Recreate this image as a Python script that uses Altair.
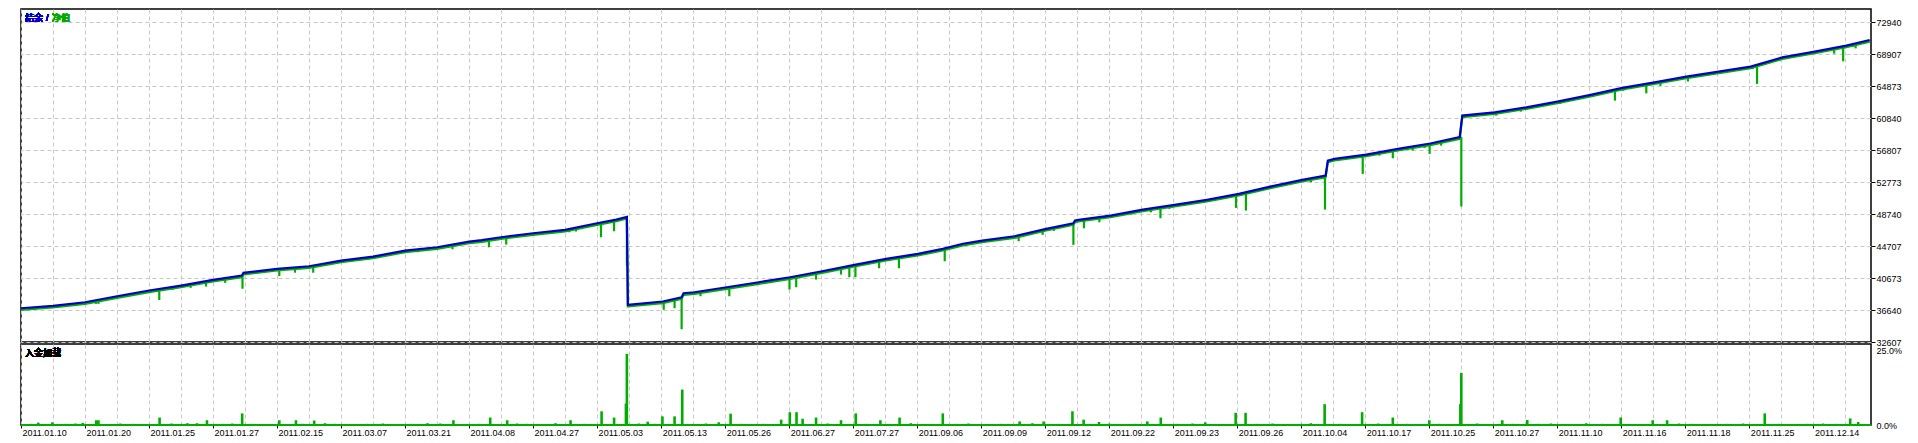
import json
import altair as alt
import pandas as pd

# ---------------- data ----------------
# x = trade number (0..578); balance curve breakpoints
bal_idx = [0, 10, 20, 30, 40, 50, 60, 69, 69.5, 80, 90, 100, 110, 120, 130, 140, 144,
           150, 160, 170, 180, 186, 189.3, 189.6, 190.4, 200.5, 206.4, 207, 210.4,
           220.5, 230.5, 240.3, 250.3, 260.4, 270.3, 280.2, 288, 294.3, 300.3, 310.4,
           320.3, 328.8, 329.3, 330.4, 340.4, 350.5, 360.4, 370.5, 380.5, 390.3, 400.3,
           407.6, 408.3, 410.4, 420.3, 430.2, 440.3, 449.5, 450.3, 460.4, 470.3, 480.4,
           490.4, 500.3, 510.4, 520.3, 530.4, 540.4, 550.3, 560.4, 570.3, 577.6]
bal_val = [36867, 37170, 37624, 38380, 39099, 39730, 40448, 40990, 41331, 41835, 42163,
           42882, 43386, 44143, 44559, 45278, 45450, 45820, 46325, 46753, 47585, 48052,
           48393, 37296, 37333, 37712, 38254, 38758, 38884, 39515, 40146, 40776, 41533,
           42340, 43096, 43727, 44357, 45000, 45404, 45946, 46879, 47585, 47926, 48014,
           48556, 49313, 49906, 50536, 51293, 52213, 53058, 53600, 55492, 55706, 56248,
           56967, 57650, 58450, 61166, 61582, 62213, 62970, 63777, 64660, 65366, 66085,
           66715, 67346, 68516, 69235, 69991, 70705]

# equity dips: trade number, balance at that point, lowest equity
dip_idx = [18.7, 23.4, 24.2, 43.2, 69.2, 80.7, 85.6, 91.3, 134.8, 146.2, 151.6, 171.3,
           181.2, 185.3, 189.3, 200.8, 204.2, 206.4, 212.3, 221.3, 240.1, 242.2, 248.4,
           256.2, 258.8, 260.7, 268.1, 274.3, 288.6, 311.7, 319.2, 328.8, 332.1, 336.9,
           356.0, 358.8, 379.6, 382.7, 407.4, 419.2, 428.6, 440.1, 450.0, 460.9, 468.6,
           480.9, 498.0, 507.8, 512.2, 542.4, 569.3, 573.2,
           27.5, 47.4, 53.0, 57.8, 63.8, 108.3, 119.8, 124.0, 164.4, 173.4, 322.7, 346.8,
           349.2, 353.0, 369.7, 373.9, 403.0, 414.5, 424.4, 438.5, 434.8, 443.7, 500.6,
           504.3, 520.8, 528.5, 541.0, 549.3, 566.5, 572.3]
dip_top = [37550, 37650, 37700, 39150, 40990, 41850, 42000, 42200, 44800, 45600, 45880,
           46800, 47600, 48000, 48393, 37720, 37900, 38254, 38950, 39550, 40770, 40900,
           41400, 42000, 42200, 42350, 42950, 43350, 44400, 46050, 46800, 47585, 48100,
           48350, 49650, 49800, 51250, 51500, 53600, 56150, 56850, 57650, 58450, 61600,
           62100, 63000, 64450, 65200, 65500, 67500, 69900, 70300,
           38200, 39550, 39950, 40300, 40650, 43300, 44140, 44300, 46550, 46850, 47000,
           48950, 49250, 49500, 50500, 50750, 53200, 55950, 56500, 57500, 57300, 57950,
           64700, 65000, 66100, 66600, 67400, 68400, 69700, 70000]
dip_low = [37300, 37420, 37420, 37900, 39330, 40930, 41350, 41350, 44300, 44560, 44900,
           46450, 45820, 46580, 42250, 36665, 36867, 34220, 38380, 38380, 39225, 39515,
           40486, 41117, 40776, 40776, 41911, 41911, 42794, 45316, 46123, 44862, 46955,
           47712, 48216, 49401, 49527, 49187, 49313, 53814, 55782, 56337, 49700, 61166,
           61670, 62642, 63058, 63979, 64912, 65164, 68012, 69654,
           38050, 39187, 39440, 39603, 40070, 42970, 43800, 43930, 46325, 46550, 46628,
           48682, 49100, 48970, 50220, 50530, 52760, 55780, 56120, 57090, 56750, 57380,
           64300, 64840, 65470, 66310, 67030, 68150, 68980, 69830]

# margin load (%) bars
bar_idx = [5.4, 9.8, 19.3, 23.5, 24.2, 43.3, 58.1, 69.1, 80.7, 85.9, 91.6, 135.1, 146.6,
           151.9, 171.7, 181.4, 185.3, 189.0, 189.3, 195.8, 200.4, 204.2, 206.6, 218,
           221.7, 237.5, 240.2, 242.3, 244.2, 248.4, 256.2, 260.8, 268.5, 274.5, 288,
           312, 319.5, 328.5, 332, 336.8, 351.9, 356.1, 370, 379.5, 382.6, 407.3, 419,
           428.6, 440, 449.7, 450, 462.8, 470.6, 499.8, 509.8, 514.3, 544.8, 571.5, 574,
           3, 14, 17, 28, 31, 35, 38, 47, 52, 55, 63, 66, 72, 75, 88, 95, 98, 104, 108,
           113, 118, 122, 127, 131, 139, 143, 155, 158, 163, 167, 176, 193, 198, 210,
           214, 225, 228, 232, 252, 264, 278, 283, 292, 296, 302, 306, 316, 324, 340,
           345, 348, 361, 366, 374, 386, 391, 395, 400, 403, 412, 416, 424, 433, 437,
           443, 455, 458, 466, 474, 478, 485, 489, 494, 503, 518, 522, 527, 533, 538,
           549, 553, 558, 563, 567, 576]
bar_pct = [0.8, 0.9, 0.7, 1.6, 1.6, 2.5, 1.6, 3.9, 1.6, 1.6, 1.5, 1.6, 2.5, 1.6, 1.6,
           4.6, 2.5, 7.2, 23.9, 1.1, 2.9, 2.9, 11.9, 0.9, 3.8, 1.8, 4.3, 4.3, 2.1, 2.5,
           1.6, 3.9, 1.6, 2.5, 3.9, 1.2, 1.2, 4.6, 1.8, 1.0, 1.2, 2.5, 0.9, 4.1, 4.1, 7.0,
           4.3, 2.5, 1.6, 7.0, 17.5, 1.6, 1.7, 2.5, 1.6, 1.6, 3.9, 2.2, 1.0,
           0.4, 0.4, 0.5, 0.3, 0.5, 0.4, 0.3, 0.5, 0.6, 0.6, 0.4, 0.5, 0.4, 0.3, 0.4, 0.6,
           0.4, 0.3, 0.4, 0.5, 0.3, 0.4, 0.6, 0.5, 0.3, 0.4, 0.5, 0.4, 0.3, 0.6, 0.4, 0.5,
           0.4, 0.3, 0.5, 0.4, 0.3, 0.4, 0.5, 0.4, 0.6, 0.3, 0.4, 0.5, 0.3, 0.4, 0.6, 0.4,
           0.5, 0.3, 0.4, 0.4, 0.5, 0.3, 0.4, 0.5, 0.3, 0.4, 0.6, 0.4, 0.3, 0.5, 0.4, 0.3,
           0.4, 0.5, 0.3, 0.4, 0.4, 0.5, 0.3, 0.6, 0.4, 0.3, 0.5, 0.4, 0.3, 0.4, 0.5, 0.4,
           0.3, 0.4, 0.5, 0.4, 0.3]

x_labels = ["2011.01.10", "2011.01.20", "2011.01.25", "2011.01.27", "2011.02.15",
            "2011.03.07", "2011.03.21", "2011.04.08", "2011.04.27", "2011.05.03",
            "2011.05.13", "2011.05.26", "2011.06.27", "2011.07.27", "2011.09.06",
            "2011.09.09", "2011.09.12", "2011.09.22", "2011.09.23", "2011.09.26",
            "2011.10.04", "2011.10.17", "2011.10.25", "2011.10.27", "2011.11.10",
            "2011.11.16", "2011.11.18", "2011.11.25", "2011.12.14"]
y_ticks = [32607, 36640, 40673, 44707, 48740, 52773, 56807, 60840, 64873, 68907, 72940]
pct_ticks = [0, 25]

# ---------------- styling ----------------
BLUE = "#0000c4"
GREEN = "#00ad00"
GRID = "#c8c8c8"
FONT = "Liberation Sans"
CJK = "Noto Sans CJK SC"

bal_df = pd.DataFrame({"i": bal_idx, "v": bal_val})
dip_df = pd.DataFrame({"i": dip_idx, "v": dip_top, "v2": dip_low})
bar_df = pd.DataFrame({"i": bar_idx, "p": bar_pct})

x_scale = alt.Scale(domain=[0, 578], nice=False, zero=False)
grid_vals = list(range(0, 578, 10))

x_upper = alt.X("i:Q", scale=x_scale, title=None,
                axis=alt.Axis(values=grid_vals, labels=False, ticks=False, domain=False,
                              tickSize=0, labelPadding=0, minExtent=0, maxExtent=0,
                              grid=True, gridDash=[4, 3], gridColor=GRID, gridWidth=1))
y_upper = alt.Y("v:Q", title=None,
                scale=alt.Scale(domain=[32607, 74618], nice=False, zero=False),
                axis=alt.Axis(orient="right", values=y_ticks, format="d", grid=True,
                              gridDash=[4, 3], gridColor=GRID, gridWidth=1, domain=False,
                              tickSize=4, tickColor="black", labelPadding=1,
                              labelFont=FONT, labelFontSize=9, labelColor="black",
                              labelBaseline="middle"))

eq_line = alt.Chart(bal_df).mark_line(color=GREEN, strokeWidth=2.2, yOffset=1.6,
                                      interpolate="linear").encode(x=x_upper, y=y_upper)
dips = alt.Chart(dip_df).mark_rule(color=GREEN, strokeWidth=2.2).encode(
    x=x_upper, y=y_upper, y2="v2:Q")
bal_line = alt.Chart(bal_df).mark_line(color=BLUE, strokeWidth=2.2).encode(x=x_upper, y=y_upper)

leg1 = alt.Chart(bal_df).mark_text(text="结余", align="left", baseline="middle",
                                   font=CJK, fontSize=9, color=BLUE).encode(
    x=alt.value(4), y=alt.value(9))
leg2 = alt.Chart(bal_df).mark_text(text="/", align="left", baseline="middle",
                                   font=FONT, fontSize=9, color=BLUE).encode(
    x=alt.value(25), y=alt.value(9))
leg3 = alt.Chart(bal_df).mark_text(text="净值", align="left", baseline="middle",
                                   font=CJK, fontSize=9, color=GREEN).encode(
    x=alt.value(31), y=alt.value(9))

upper = alt.layer(eq_line, dips, bal_line, leg1, leg2, leg3).properties(width=1850, height=333)

label_expr = ("datum.value % 20 === 0 ? " + json.dumps(x_labels, ensure_ascii=False)
              + "[datum.value / 20] : ''")
x_lower = alt.X("i:Q", scale=x_scale, title=None,
                axis=alt.Axis(values=grid_vals, labelExpr=label_expr, domain=False,
                              grid=True, gridDash=[4, 3], gridColor=GRID, gridWidth=1,
                              tickSize=3,
                              tickColor={"condition": {"test": "datum.value % 20 === 0",
                                                       "value": "black"},
                                         "value": "transparent"},
                              labelAlign="left", labelOffset=1, labelBaseline="top",
                              labelPadding=0, labelFont=FONT, labelFontSize=9,
                              labelColor="black", labelOverlap=False))
y_lower = alt.Y("p:Q", title=None,
                scale=alt.Scale(domain=[0, 27.2], nice=False, zero=True),
                axis=alt.Axis(orient="right", values=pct_ticks, grid=False, domain=False,
                              labelExpr="format(datum.value, '.1f') + '%'",
                              tickSize=0, labelPadding=5, labelFont=FONT,
                              labelFontSize=9, labelColor="black",
                              labelBaseline="middle"))

bars = alt.Chart(bar_df).mark_rule(color=GREEN, strokeWidth=2.6).encode(
    x=x_lower, y=y_lower, y2=alt.datum(0))
base = alt.Chart(bar_df).mark_rule(color=GREEN, strokeWidth=2).encode(y=alt.datum(0))
lab = alt.Chart(bar_df).mark_text(text="入金加载", align="left", baseline="middle",
                                  font=CJK, fontSize=9, color="black").encode(
    x=alt.value(4), y=alt.value(9))

lower = alt.layer(bars, base, lab).properties(width=1850, height=81)

chart = alt.vconcat(upper, lower, spacing=2, bounds="flush").properties(
    padding={"left": 7, "top": 0, "right": 5, "bottom": 2},
    background="white",
).configure_view(stroke="black", strokeWidth=1.5)

chart.save("out.html", embed_options={"renderer": "svg", "actions": False})
